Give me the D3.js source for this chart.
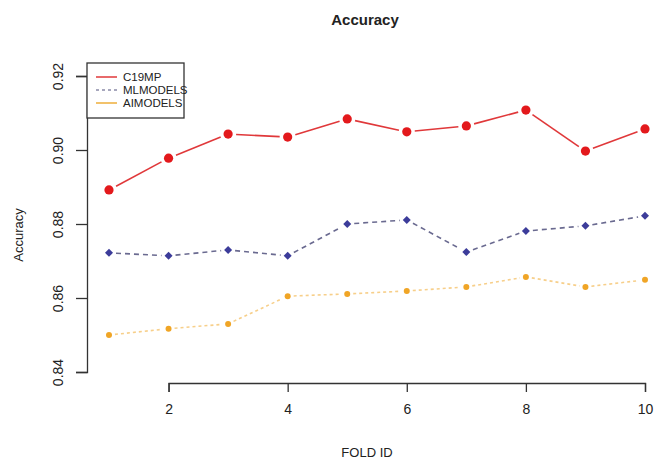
<!DOCTYPE html>
<html>
<head>
<meta charset="utf-8">
<script src="https://cdn.jsdelivr.net/npm/d3@7"></script>
<style>
  body { margin: 0; background: #fff; }
  svg text { font-family: "Liberation Sans", Arial, sans-serif; fill: #222; }
</style>
</head>
<body>
<div class="canvas"></div>
<script>
// values
const folds = [1, 2, 3, 4, 5, 6, 7, 8, 9, 10];
const c19mp = [0.8892, 0.8978, 0.9043, 0.9035, 0.9084, 0.9049, 0.9065, 0.9108, 0.8997, 0.9057];
const mlmodels = [0.8722, 0.8714, 0.8730, 0.8714, 0.8800, 0.8811, 0.8724, 0.8781, 0.8795, 0.8822];
const aimodels = [0.8500, 0.8517, 0.8530, 0.8605, 0.8611, 0.8619, 0.8630, 0.8657, 0.8630, 0.8649];
const seriesNames = ['C19MP', 'MLMODELS', 'AIMODELS'];
const xTicks = [2, 4, 6, 8, 10];
const yTicks = [0.84, 0.86, 0.88, 0.90, 0.92];

const size = { width: 654, height: 462 };

const svg = d3.select('.canvas')
  .append('svg')
  .attr('width', size.width)
  .attr('height', size.height);

// scales
const x = d3.scaleLinear().domain([1, 10]).range([109, 645]);
const y = d3.scaleLinear().domain([0.84, 0.92]).range([372, 76]);

// series styles
const series = [
  { name: seriesNames[0], values: c19mp, line: '#e0383a', point: '#e3191c', dash: null, shape: 'circle', r: 4.6, gap: 8 },
  { name: seriesNames[1], values: mlmodels, line: '#6a6a90', point: '#3c3c9a', dash: '5,4', shape: 'diamond', r: 4, gap: 7 },
  { name: seriesNames[2], values: aimodels, line: '#f7cf8a', point: '#f0a526', dash: '3,3', shape: 'circle', r: 3, gap: 6 }
];

// axes (R style: line spans first to last tick)
const xAxisScale = x.copy().domain([2, 10]).range([x(2), x(10)]);
const xAxis = d3.axisBottom(xAxisScale)
  .tickValues(xTicks)
  .tickSize(9)
  .tickSizeOuter(9)
  .tickPadding(12)
  .tickFormat(d3.format('d'));

const yAxis = d3.axisLeft(y)
  .tickValues(yTicks)
  .tickSize(11)
  .tickSizeOuter(11)
  .tickFormat(d3.format('.2f'));

const xg = svg.append('g')
  .attr('transform', 'translate(0, 383)')
  .call(xAxis);
xg.selectAll('text').style('font-size', '14px').attr('fill', '#222');

const yg = svg.append('g')
  .attr('transform', 'translate(87, 0)')
  .call(yAxis);
yg.selectAll('.tick text')
  .style('font-size', '14px')
  .attr('fill', '#222')
  .attr('x', 0)
  .attr('dy', 0)
  .attr('text-anchor', 'middle')
  .attr('transform', 'translate(-24, 0) rotate(-90)');

svg.selectAll('.domain, .tick line')
  .attr('stroke', '#333')
  .attr('stroke-width', 1.3);

// titles
svg.append('text')
  .attr('x', 365).attr('y', 25)
  .attr('text-anchor', 'middle')
  .style('font-size', '15px')
  .style('font-weight', 'bold')
  .text('Accuracy');

svg.append('text')
  .attr('x', 367).attr('y', 457)
  .attr('text-anchor', 'middle')
  .style('font-size', '13px')
  .text('FOLD ID');

svg.append('text')
  .attr('transform', 'translate(23, 235) rotate(-90)')
  .attr('text-anchor', 'middle')
  .style('font-size', '13px')
  .text('Accuracy');

// lines drawn as R type "b": segments stop short of the points
const graph = svg.append('g');

series.forEach(s => {
  const pts = folds.map((f, i) => [x(f), y(s.values[i])]);
  const segs = d3.pairs(pts).map(([a, b]) => {
    const dx = b[0] - a[0], dy = b[1] - a[1];
    const len = Math.hypot(dx, dy);
    const ux = dx / len, uy = dy / len;
    return [[a[0] + ux * s.gap, a[1] + uy * s.gap], [b[0] - ux * s.gap, b[1] - uy * s.gap]];
  });

  graph.append('g').selectAll('line')
    .data(segs)
    .enter()
    .append('line')
      .attr('x1', d => d[0][0]).attr('y1', d => d[0][1])
      .attr('x2', d => d[1][0]).attr('y2', d => d[1][1])
      .attr('stroke', s.line)
      .attr('stroke-width', 1.6)
      .attr('stroke-dasharray', s.dash);

  const marks = graph.append('g').selectAll('path')
    .data(folds.map((f, i) => ({ fold: f, value: s.values[i] })))
    .enter()
    .append('path')
      .attr('transform', d => `translate(${x(d.fold)}, ${y(d.value)})`)
      .attr('fill', s.point);

  if (s.shape === 'circle') {
    marks.attr('d', d3.symbol().type(d3.symbolCircle).size(Math.PI * s.r * s.r)());
  } else {
    marks.attr('d', `M0,${-s.r}L${s.r},0L0,${s.r}L${-s.r},0Z`);
  }
});

// legend
const legendGroup = svg.append('g').attr('transform', 'translate(87, 63)');

legendGroup.append('rect')
  .attr('width', 97).attr('height', 55)
  .attr('fill', '#fff')
  .attr('stroke', '#333')
  .attr('stroke-width', 1.3);

const legendStyles = [
  { color: '#e0383a', dash: null },
  { color: '#8a8aa8', dash: '3,3' },
  { color: '#eeae3a', dash: null }
];

const items = legendGroup.selectAll('g.item')
  .data(seriesNames)
  .enter()
  .append('g')
    .attr('class', 'item')
    .attr('transform', (d, i) => `translate(0, ${14 + i * 13})`);

items.append('line')
  .attr('x1', 9).attr('x2', 30)
  .attr('stroke', (d, i) => legendStyles[i].color)
  .attr('stroke-width', 1.5)
  .attr('stroke-dasharray', (d, i) => legendStyles[i].dash);

items.append('text')
  .attr('x', 36).attr('dy', '0.35em')
  .style('font-size', '11.5px')
  .text(d => d);
</script>
</body>
</html>
